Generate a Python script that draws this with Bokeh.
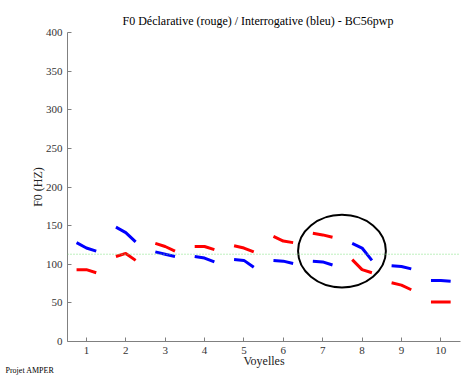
from bokeh.plotting import figure
from bokeh.models import Span, Range1d, FixedTicker, ColumnDataSource, Title
from bokeh.embed import file_html
from bokeh.resources import INLINE

# ---- data ----
vowels = [1, 2, 3, 4, 5, 6, 7, 8, 9, 10]
point_offsets = [-0.25, 0.0, 0.25]
declarative = [
    [93, 93, 89], [110, 114, 105], [127, 123, 117], [123, 123, 119], [124, 121, 116],
    [136, 130, 128], [140, 138, 135], [106, 93, 89], [76, 73, 67], [51, 51, 51],
]
interrogative = [
    [128, 121, 117], [148, 141, 129], [116, 113, 110], [110, 108, 103], [106, 105, 96],
    [105, 104, 101], [104, 103, 99], [127, 121, 105], [98, 97, 94], [79, 79, 78],
]
reference_f0 = 113
circle_center = (7.49, 117)
circle_size = (2.23, 94)
y_ticks = [0, 50, 100, 150, 200, 250, 300, 350, 400]

FONT = "Liberation Serif"

p = figure(width=462, height=376, output_backend="svg", toolbar_location=None,
           x_range=Range1d(0.52, 10.5), y_range=Range1d(0, 400),
           min_border_left=67, min_border_right=2, min_border_top=32, min_border_bottom=35)
p.title.text = "F0 Déclarative (rouge) / Interrogative (bleu) - BC56pwp"
p.title.text_font = FONT
p.title.text_font_size = "12px"
p.title.text_font_style = "normal"
p.title.align = "left"
p.title.offset = 55
p.title.text_color = "#000000"
p.outline_line_color = None
p.grid.visible = False
p.background_fill_color = "white"
p.border_fill_color = "white"

for ax in (p.xaxis[0], p.yaxis[0]):
    ax.axis_line_color = "#808080"
    ax.major_tick_line_color = "#808080"
    ax.major_tick_in = 4
    ax.major_tick_out = 0
    ax.minor_tick_line_color = None
    ax.major_label_text_font = FONT
    ax.major_label_text_font_size = "11px"
    ax.major_label_text_color = "#333333"
    ax.axis_label_text_font = FONT
    ax.axis_label_text_font_size = "12px"
    ax.axis_label_text_font_style = "normal"
    ax.axis_label_text_color = "#222222"

p.xaxis.ticker = FixedTicker(ticks=vowels)
p.yaxis.ticker = FixedTicker(ticks=y_ticks)
p.yaxis.axis_label = "F0 (HZ)"
p.yaxis.axis_label_standoff = -2

# x-axis label as a centred title below the axis
p.add_layout(Title(text="Voyelles", align="center", text_font=FONT,
                   text_font_size="12px", text_font_style="normal", text_color="#222222",
                   standoff=-10), "below")
p.add_layout(Title(text="Projet AMPER", align="left", offset=-62, text_font=FONT,
                   text_font_size="8px", text_font_style="normal", text_color="black",
                   standoff=2), "below")

p.add_layout(Span(location=reference_f0, dimension="width", line_color="#7CE07C",
                  line_dash="1 2", line_width=1))

def segs(series):
    xs = [[v + o for o in point_offsets] for v in vowels]
    return ColumnDataSource(dict(xs=xs, ys=series))

p.multi_line("xs", "ys", source=segs(declarative), line_color="#FF0000", line_width=3)
p.multi_line("xs", "ys", source=segs(interrogative), line_color="#0000FF", line_width=3)

p.ellipse(x=[circle_center[0]], y=[circle_center[1]], width=circle_size[0], height=circle_size[1],
          fill_color=None, line_color="black", line_width=2)

open("out.html", "w").write(file_html(p, INLINE))
